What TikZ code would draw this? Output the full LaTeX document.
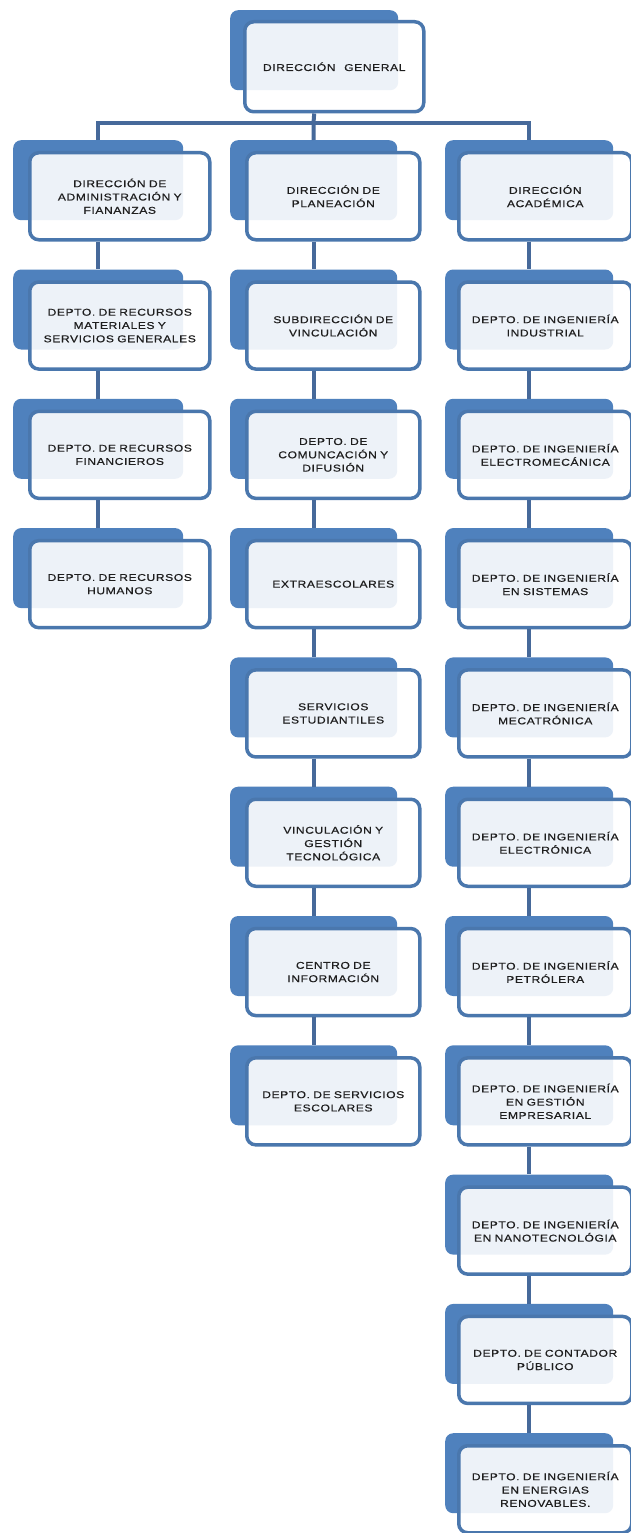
\documentclass[tikz,border=0pt]{standalone}
\usepackage{fontspec}
\setmainfont{Liberation Sans}[FakeStretch=1.22,LetterSpace=6,WordSpace=2.2,FakeBold=0.6]
\definecolor{backblue}{HTML}{4F81BD}
\definecolor{edgeblue}{HTML}{4A77AD}
\definecolor{linkblue}{HTML}{46699A}
\definecolor{txt}{HTML}{1E1E1E}
\tikzset{
  backbox/.style={fill=backblue, rounded corners=8pt, inner sep=0pt, minimum height=80pt, anchor=north west},
  frontbox/.style={draw=edgeblue, line width=3.5pt, fill=white, fill opacity=0.9, text opacity=1,
    rounded corners=9pt, inner sep=0pt, minimum height=87pt, anchor=north west, align=center,
    text=txt, font=\fontsize{9.9}{13.3}\selectfont},
  link/.style={draw=linkblue, line width=4pt}
}
% #1 name, #2 back x, #3 back width, #4 front x, #5 front width, #6 back top y, #7 text
\newcommand{\obox}[7]{%
  \node[backbox, minimum width=#3pt] (#1b) at (#2,#6) {};
  \node[frontbox, minimum width=#5pt, text width=#5pt-8pt] (#1f) at (#4,#6+11) {#7};
}
\newcommand{\Lbox}[3]{\obox{#1}{13}{170}{28}{180}{#2}{#3}}
\newcommand{\Mbox}[3]{\obox{#1}{230}{167}{245}{173}{#2}{#3}}
\newcommand{\Rbox}[3]{\obox{#1}{445}{168}{457}{173}{#2}{#3}}
\begin{document}
\begin{tikzpicture}[x=1pt,y=-1pt]
\fill[white] (0,0) rectangle (631,1533);
\useasboundingbox (0,0) rectangle (631,1533);

% top
\node[backbox, minimum width=168pt] (Tb) at (230,10) {};
\node[frontbox, minimum width=179pt, minimum height=90pt] (Tf) at (243,20) {DIRECCIÓN GENERAL};

% left column
\Lbox{L0}{140}{DIRECCIÓN DE\\ADMINISTRACIÓN Y\\FIANANZAS}
\Lbox{L1}{269.3}{DEPTO. DE RECURSOS\\MATERIALES Y\\SERVICIOS GENERALES}
\Lbox{L2}{398.6}{DEPTO. DE RECURSOS\\FINANCIEROS}
\Lbox{L3}{527.9}{DEPTO. DE RECURSOS\\HUMANOS}

% middle column
\Mbox{M0}{140}{DIRECCIÓN DE\\PLANEACIÓN}
\Mbox{M1}{269.3}{SUBDIRECCIÓN DE\\VINCULACIÓN}
\Mbox{M2}{398.6}{DEPTO. DE\\COMUNCACIÓN Y\\DIFUSIÓN}
\Mbox{M3}{527.9}{EXTRAESCOLARES}
\Mbox{M4}{657.2}{SERVICIOS\\ESTUDIANTILES}
\Mbox{M5}{786.5}{VINCULACIÓN Y\\GESTIÓN\\TECNOLÓGICA}
\Mbox{M6}{915.8}{CENTRO DE\\INFORMACIÓN}
\Mbox{M7}{1045.1}{DEPTO. DE SERVICIOS\\ESCOLARES}

% right column
\Rbox{R0}{140}{DIRECCIÓN\\ACADÉMICA}
\Rbox{R1}{269.3}{DEPTO. DE INGENIERÍA\\INDUSTRIAL}
\Rbox{R2}{398.6}{DEPTO. DE INGENIERÍA\\ELECTROMECÁNICA}
\Rbox{R3}{527.9}{DEPTO. DE INGENIERÍA\\EN SISTEMAS}
\Rbox{R4}{657.2}{DEPTO. DE INGENIERÍA\\MECATRÓNICA}
\Rbox{R5}{786.5}{DEPTO. DE INGENIERÍA\\ELECTRÓNICA}
\Rbox{R6}{915.8}{DEPTO. DE INGENIERÍA\\PETRÓLERA}
\Rbox{R7}{1045.1}{DEPTO. DE INGENIERÍA\\EN GESTIÓN\\EMPRESARIAL}
\Rbox{R8}{1174.4}{DEPTO. DE INGENIERÍA\\EN NANOTECNOLÓGIA}
\Rbox{R9}{1303.7}{DEPTO. DE CONTADOR\\PÚBLICO}
\Rbox{R10}{1433}{DEPTO. DE INGENIERÍA\\EN ENERGIAS\\RENOVABLES.}

% connectors
\coordinate (bar) at (313.5,123);
\draw[link] (Tf.south -| Tb.center) -- (bar);
\draw[link] (L0b.north) -- (L0b.north |- bar) -- (R0b.north |- bar) -- (R0b.north);
\draw[link] (bar) -- (M0b.north);
\foreach \c/\n in {L/3, M/7, R/10}{
  \foreach \i [evaluate=\i as \j using int(\i+1)] in {0,...,\numexpr\n-1\relax}{
    \draw[link] (\c\i f.south -| \c\i b.center) -- (\c\j b.north);
  }
}
\end{tikzpicture}
\end{document}
